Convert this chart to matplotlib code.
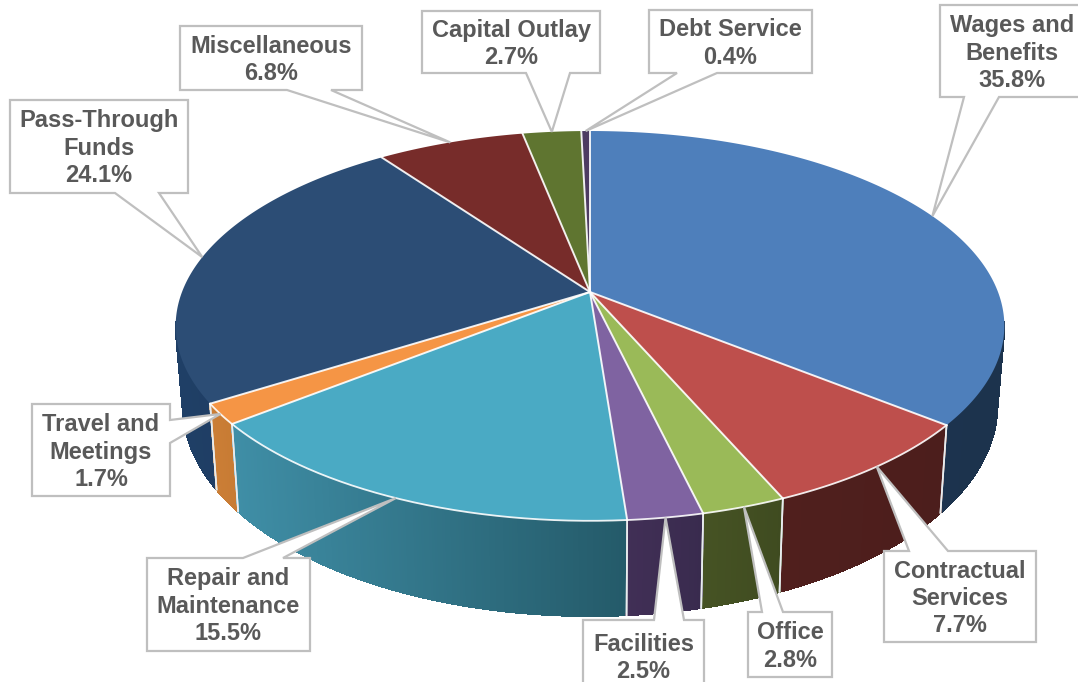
import numpy as np
import matplotlib
matplotlib.use('Agg')
import matplotlib.pyplot as plt
from matplotlib.collections import PolyCollection
from matplotlib.colors import to_rgb
from matplotlib.patches import Polygon

names = ['Wages and\nBenefits', 'Contractual\nServices', 'Office', 'Facilities',
         'Repair and\nMaintenance', 'Travel and\nMeetings', 'Pass-Through\nFunds',
         'Miscellaneous', 'Capital Outlay', 'Debt Service']
shares = [35.8, 7.7, 2.8, 2.5, 15.5, 1.7, 24.1, 6.8, 2.7, 0.4]

top_colors = ['#4E7FBB', '#BE4F4C', '#9ABA58', '#7F63A1', '#4AAAC4',
              '#F59545', '#2C4D75', '#772C2A', '#5F7530', '#4D3B62']
# side wall colours, left end and right end of each slice
side_left = ['#1F3652', '#501F1D', '#465324', '#412F56', '#3F8EA6',
             '#CB7E36', '#1F3F66', '#501F1D', '#465324', '#412F56']
side_right = ['#1C334D', '#4C1E1C', '#3F4B20', '#392B4E', '#245A69',
              '#C67A33', '#1D3A5E', '#501F1D', '#465324', '#412F56']

# box: left, top, right, bottom, side the pointer leaves from, two base positions
boxes = [(940, 5, 1084, 97, 'bottom', 964, 999),
         (884, 551, 1036, 642, 'top', 909, 948),
         (748, 612, 832, 677, 'top', 762, 783),
         (583, 620, 704, 692, 'top', 654, 684),
         (147, 558, 310, 651, 'top', 243, 283),
         (32, 404, 170, 496, 'right', 420, 443),
         (10, 100, 188, 193, 'bottom', 115, 159),
         (180, 26, 362, 90, 'bottom', 287, 331),
         (422, 11, 600, 73, 'bottom', 526, 570),
         (649, 10, 812, 73, 'bottom', 677, 717)]

cx = 590
persp = 0.174


def project(angle, r, y0, h):
  # angle is clockwise from the top of the pie, in degrees
  a = np.radians(angle)
  u = np.sin(a)
  v = -np.cos(a)
  s = 1 / (1 - persp * v)
  return cx + r * u * s, y0 + h * v * s


def top_edge(angle):
  return project(angle, 408, 292, 189)


def bottom_edge(angle):
  return project(angle, 401, 369, 204)


fig = plt.figure(figsize=(10.78, 6.82), dpi=100)
ax = fig.add_axes([0, 0, 1, 1])
ax.set_xlim(0, 1078)
ax.set_ylim(682, 0)
ax.axis('off')

edges = np.cumsum([0] + shares) / sum(shares) * 360

# side walls first, only the front part of the rim shows
order = sorted(range(len(shares)), key=lambda i: -np.cos(np.radians((edges[i] + edges[i + 1]) / 2)))
for i in order:
  ang = np.linspace(edges[i], edges[i + 1], max(int(edges[i + 1] - edges[i]) * 3, 4))
  tx, ty = top_edge(ang)
  bx, by = bottom_edge(ang)
  quads = []
  cols = []
  c0 = np.array(to_rgb(side_left[i]))
  c1 = np.array(to_rgb(side_right[i]))
  lo, hi = min(tx.min(), bx.min()), max(tx.max(), bx.max())
  for j in range(len(ang) - 1):
    if min(-np.cos(np.radians(ang[j])), -np.cos(np.radians(ang[j + 1]))) < 0.15:
      continue
    quads.append([(tx[j], ty[j]), (tx[j + 1], ty[j + 1]), (bx[j + 1], by[j + 1]), (bx[j], by[j])])
    t = ((tx[j] + tx[j + 1]) / 2 - lo) / (hi - lo)
    cols.append(c0 + (c1 - c0) * t)
  if quads:
    ax.add_collection(PolyCollection(quads, facecolors=cols, edgecolors=cols, linewidths=0.8,
                                     antialiaseds=False, zorder=2))
  for e in (edges[i], edges[i + 1]):
    x0, y0 = top_edge(e)
    x1, y1 = bottom_edge(e)
    if -np.cos(np.radians(e)) > 0.15:
      ax.plot([x0, x1], [y0, y1], color='#E8ECEE', lw=1.2, zorder=3)

# top face
for i in range(len(shares)):
  ang = np.linspace(edges[i], edges[i + 1], max(int(edges[i + 1] - edges[i]) * 3, 4))
  tx, ty = top_edge(ang)
  pts = [(cx, 292)] + list(zip(tx, ty))
  ax.add_patch(Polygon(pts, closed=True, facecolor=top_colors[i], edgecolor='none', zorder=4))
for i in range(len(shares)):
  ang = np.linspace(edges[i], edges[i + 1], max(int(edges[i + 1] - edges[i]) * 3, 4))
  tx, ty = top_edge(ang)
  x0, y0 = top_edge(edges[i])
  ax.plot([cx, x0], [292, y0], color='white', lw=1.4, alpha=0.9, zorder=5)
  if -np.cos(np.radians((edges[i] + edges[i + 1]) / 2)) > 0.4:
    ax.plot(tx, ty, color='white', lw=1.3, alpha=0.9, zorder=5)

# callouts, pointer tip sits on the rim at the middle of the slice
for i, box in enumerate(boxes):
  l, t, r, b, side, p1, p2 = box
  tip = top_edge((edges[i] + edges[i + 1]) / 2)
  if side == 'bottom':
    pts = [(l, t), (r, t), (r, b), (p2, b), tip, (p1, b), (l, b)]
  elif side == 'top':
    pts = [(l, t), (p1, t), tip, (p2, t), (r, t), (r, b), (l, b)]
  else:
    pts = [(l, t), (r, t), (r, p1), tip, (r, p2), (r, b), (l, b)]
  ax.add_patch(Polygon(pts, closed=True, facecolor='white', edgecolor='#BFBFBF',
                       lw=1.6, joinstyle='miter', zorder=6))
  ax.text((l + r) / 2, (t + b) / 2 + 2, '%s\n%.1f%%' % (names[i], shares[i]),
          ha='center', va='center', family='Liberation Sans', weight='bold',
          fontsize=17, color='#595959', linespacing=1.25, zorder=7)

fig.savefig('out.png', dpi=100)
